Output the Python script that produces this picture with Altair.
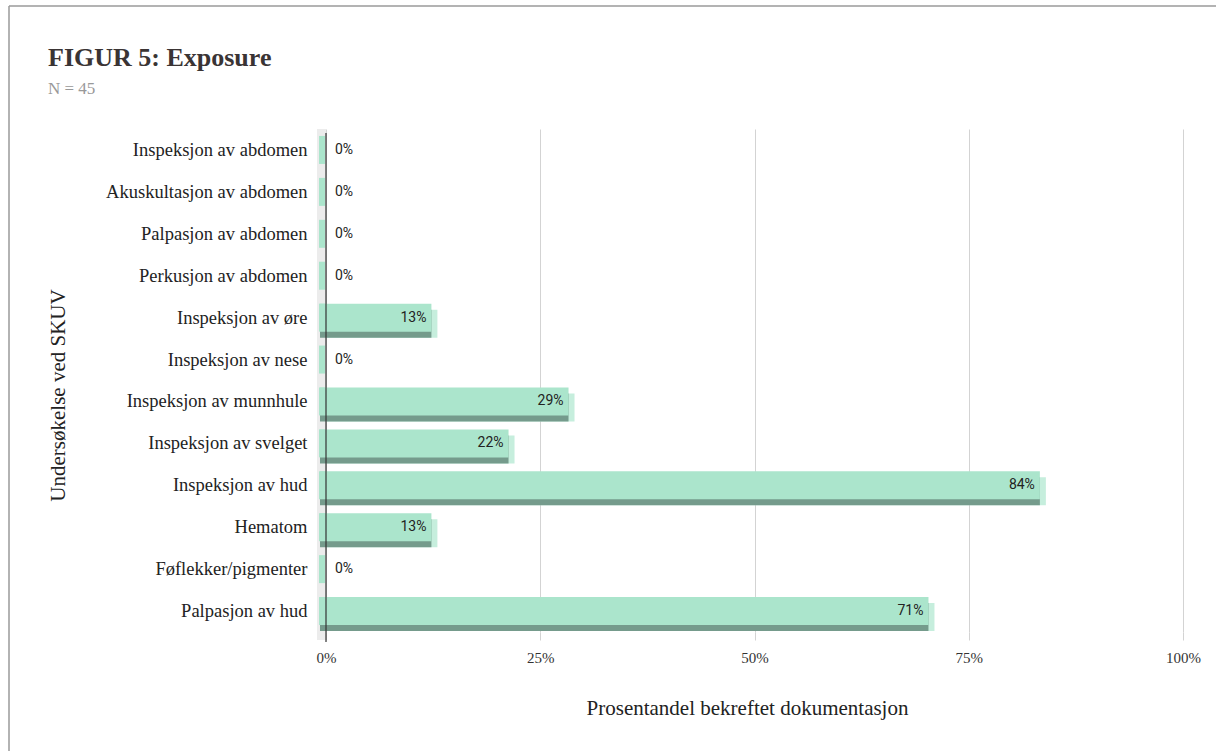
import altair as alt
import pandas as pd

categories = [
    "Inspeksjon av abdomen",
    "Akuskultasjon av abdomen",
    "Palpasjon av abdomen",
    "Perkusjon av abdomen",
    "Inspeksjon av øre",
    "Inspeksjon av nese",
    "Inspeksjon av munnhule",
    "Inspeksjon av svelget",
    "Inspeksjon av hud",
    "Hematom",
    "Føflekker/pigmenter",
    "Palpasjon av hud",
]
values = [0, 0, 0, 0, 13, 0, 29, 22, 84, 13, 0, 71]
x_ticks = [0, 25, 50, 75, 100]
title_text = "FIGUR 5: Exposure"
subtitle_text = "N = 45"

df = pd.DataFrame({"cat": categories, "val": values})
df["start"] = 0
df["label"] = df["val"].astype(str) + "%"

W, H = 857, 503
FACE = "#abe5cc"
SIDE = "#c6eedd"
DARK = "#759b8c"
SERIF = "Liberation Serif"

x_scale = alt.Scale(domain=[0, 100], nice=False, zero=True)
x_axis = alt.Axis(
    values=x_ticks, labelExpr="datum.value + '%'", grid=True, gridColor="#d3d3d3",
    domain=False, ticks=True, tickColor="#d3d3d3", tickSize=8, labelPadding=10,
    labelFlush=False,
    labelFont=SERIF, labelFontSize=15, labelColor="#333333",
    titleFont=SERIF, titleFontSize=21, titleFontWeight="normal", titleColor="#222222",
    titlePadding=32, titleX=421,
)
y_scale = alt.Scale(domain=categories, paddingInner=0, paddingOuter=0)
y_axis = alt.Axis(
    domain=False, ticks=False, grid=False, labelPadding=19,
    labelFont=SERIF, labelFontSize=18.5, labelColor="#222222", labelLimit=320,
    titleFont=SERIF, titleFontSize=21, titleFontWeight="normal", titleColor="#222222",
    titleAngle=-90, titleX=-268, titleY=266, titleAlign="center", titleBaseline="middle",
)
X_TITLE = "Prosentandel bekreftet dokumentasjon"
Y_TITLE = "Undersøkelse ved SKUV"


def xs(field):
    return alt.X(f"{field}:Q", scale=x_scale, axis=x_axis, title=X_TITLE)


def ys():
    return alt.Y("cat:N", sort=categories, scale=y_scale, axis=y_axis, title=Y_TITLE)


base = alt.Chart(df)
one = pd.DataFrame({"a": [0]})

# light gray 3D wall at the left
wall = alt.Chart(one).mark_rect(color="#ececec").encode(
    x=alt.value(-9), x2=alt.value(0), y=alt.value(0), y2=alt.value(H + 8)
)

sliver = base.mark_bar(color=FACE, size=28, xOffset=-7, x2Offset=-1).encode(
    x=xs("start"), x2=alt.X2("start"), y=ys()
)
side = base.mark_bar(color=SIDE, size=28, yOffset=6, y2Offset=6).encode(
    x=xs("start"), x2=alt.X2("val"), y=ys()
)
dark = base.mark_bar(color=DARK, size=28, xOffset=-6, x2Offset=-6, yOffset=6, y2Offset=6).encode(
    x=xs("start"), x2=alt.X2("val"), y=ys()
)
face = base.mark_bar(color=FACE, size=28, xOffset=-6, x2Offset=-6).encode(
    x=xs("start"), x2=alt.X2("val"), y=ys()
)

zero_line = alt.Chart(one).mark_rule(color="#333333", strokeWidth=1.2).encode(
    x=alt.value(0), y=alt.value(4), y2=alt.value(H + 10)
)

txt_pos = base.transform_filter("datum.val > 0").mark_text(
    align="right", baseline="middle", dx=-11, font="Roboto", fontSize=14, color="#222222"
).encode(x=xs("val"), y=ys(), text="label:N")
txt_zero = base.transform_filter("datum.val == 0").mark_text(
    align="left", baseline="middle", dx=9, font="Roboto", fontSize=14, color="#222222"
).encode(x=xs("val"), y=ys(), text="label:N")

# title and subtitle (positioned relative to the plot origin at 326,129)
title_df = pd.DataFrame({"t": [title_text]})
sub_df = pd.DataFrame({"t": [subtitle_text]})
title_mark = alt.Chart(title_df).mark_text(
    align="left", baseline="alphabetic", font=SERIF, fontSize=26, fontWeight="bold",
    color="#3a3434"
).encode(x=alt.value(48 - 326), y=alt.value(66 - 129), text="t:N")
sub_mark = alt.Chart(sub_df).mark_text(
    align="left", baseline="alphabetic", font=SERIF, fontSize=17, color="#999999"
).encode(x=alt.value(48 - 326), y=alt.value(94 - 129), text="t:N")

# outer frame lines (top and left)
frame_top = alt.Chart(one).mark_rule(color="#9a9a9a", strokeWidth=1.5).encode(
    x=alt.value(-317), x2=alt.value(900), y=alt.value(-123)
)
frame_left = alt.Chart(one).mark_rule(color="#9a9a9a", strokeWidth=1.5).encode(
    x=alt.value(-317), y=alt.value(-123), y2=alt.value(640)
)

chart = alt.layer(
    wall, sliver, side, dark, face, zero_line, txt_pos, txt_zero,
    title_mark, sub_mark, frame_top, frame_left
).properties(
    width=W,
    height=H,
    background="white",
    autosize=alt.AutoSizeParams(type="none"),
    padding={"left": 326, "top": 129, "right": 33, "bottom": 119},
).configure_view(stroke=None)

chart.save("out.html", embed_options={"renderer": "svg", "actions": False})
